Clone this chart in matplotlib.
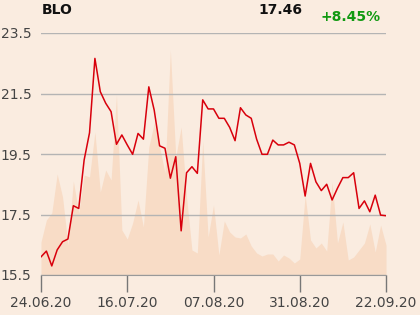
import matplotlib
matplotlib.use("Agg")
import matplotlib.pyplot as plt

# closing prices, one per trading day 24.06.20 .. 22.09.20
price = [16.10, 16.29, 15.80, 16.33, 16.60, 16.69, 17.79, 17.70, 19.30, 20.20,
         22.66, 21.56, 21.18, 20.90, 19.82, 20.13, 19.80, 19.49, 20.18, 19.99,
         21.72, 20.95, 19.77, 19.69, 18.70, 19.41, 16.96, 18.88, 19.08, 18.86,
         21.29, 20.99, 20.99, 20.68, 20.68, 20.38, 19.94, 21.03, 20.79, 20.68,
         19.99, 19.49, 19.49, 19.96, 19.80, 19.80, 19.89, 19.80, 19.19, 18.11,
         19.19, 18.58, 18.29, 18.50, 17.98, 18.37, 18.72, 18.72, 18.88, 17.70,
         17.95, 17.59, 18.14, 17.48, 17.46]

# traded volume (thousands, estimated)
volume = [33, 55, 62, 101, 78, 30, 94, 62, 100, 98,
          143, 83, 105, 95, 180, 45, 36, 52, 75, 48,
          128, 152, 128, 102, 225, 118, 148, 78, 25, 22,
          134, 38, 70, 20, 54, 43, 38, 37, 41, 29,
          22, 19, 21, 21, 14, 20, 17, 12, 16, 80,
          35, 27, 32, 24, 93, 32, 53, 15, 18, 25,
          32, 51, 23, 50, 30]

tick_pos = [0, 16, 32, 48, 64]
tick_labels = ["24.06.20", "16.07.20", "07.08.20", "31.08.20", "22.09.20"]
y_ticks = [15.5, 17.5, 19.5, 21.5, 23.5]

bg = "#faece0"
x = list(range(len(price)))

fig = plt.figure(figsize=(4.2, 3.15), dpi=100, facecolor=bg)
ax2 = fig.add_axes([41 / 420, 1 - 275 / 315, 345 / 420, 242 / 315])
ax = fig.add_axes([41 / 420, 1 - 275 / 315, 345 / 420, 242 / 315])
ax2.set_facecolor(bg)
ax.patch.set_visible(False)

# volume area in the background
ax2.fill_between(x, volume, 0, color="#f8dcc6", lw=0)
ax2.set_ylim(0, 242)
ax2.set_xlim(0, 64)
ax2.axis("off")

ax.plot(x, price, color="#d8000c", lw=1.1, zorder=3)
ax.set_xlim(0, 64)
ax.set_ylim(15.5, 23.5)
ax.set_yticks(y_ticks)
ax.set_yticklabels([f"{v:.1f}" for v in y_ticks])
ax.set_xticks(tick_pos)
ax.set_xticklabels(tick_labels)
ax.grid(axis="y", color="#b4b4b4", lw=1)
for s in ["top", "right", "left"]:
    ax.spines[s].set_visible(False)
ax.spines["bottom"].set_color("#999999")
ax.tick_params(axis="y", length=0, pad=7, labelsize=10, labelcolor="#444444")
ax.tick_params(axis="x", length=12, width=1, color="#777777", pad=3,
               labelsize=10, labelcolor="#444444")

fig.text(42 / 420, 1 - 10 / 315, "BLO", fontsize=10, fontweight="bold",
         ha="left", va="center", color="#111111")
fig.text(302 / 420, 1 - 10 / 315, "17.46", fontsize=10, fontweight="bold",
         ha="right", va="center", color="#111111")
fig.text(381 / 420, 1 - 17 / 315, "+8.45%", fontsize=10, fontweight="bold",
         ha="right", va="center", color="#119911")

fig.savefig("out.png", dpi=100, facecolor=bg)
